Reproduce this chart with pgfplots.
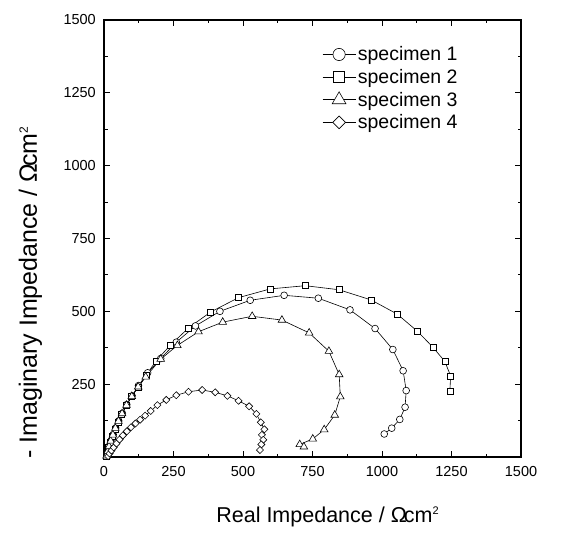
\documentclass[border=0pt]{standalone}
\usepackage{fontspec}
\setmainfont{Liberation Sans}
\usepackage{pgfplots}
\pgfplotsset{compat=1.18}
\begin{document}
\begin{tikzpicture}
\begin{axis}[
    width=417pt, height=437pt, scale only axis,
    xmin=0, xmax=1500, ymin=0, ymax=1500,
    xtick={0,250,...,1500}, ytick={0,250,...,1500},
    xticklabels={0,250,500,750,1000,1250,1500},
    yticklabels={,250,500,750,1000,1250,1500},
    minor tick num=1,
    tick align=inside,
    major tick length=6pt, minor tick length=3.5pt,
    axis line style={line width=1.2pt},
    every tick/.style={black, line width=0.9pt},
    tick label style={font=\fontsize{14.5}{14.5}\selectfont},
    xticklabel style={inner sep=0pt, yshift=-9pt},
    yticklabel style={inner sep=0pt, xshift=-8pt},
    xlabel={Real Impedance / Ω\kern-3pt cm\raisebox{8pt}{\fontsize{11}{11}\selectfont 2}},
    ylabel={- Imaginary Impedance / Ω\kern-3pt cm\raisebox{9pt}{\fontsize{12}{12}\selectfont 2}},
    xlabel style={font=\fontsize{21.5}{21.5}\selectfont, at={(axis description cs:0.536,-0.149)}, anchor=base},
    ylabel style={font=\fontsize{25}{25}\selectfont, at={(axis description cs:-0.161,0.376)}, anchor=base},
    legend style={draw=none, fill=none, at={(axis description cs:0.523,0.944)}, anchor=north west,
        font=\fontsize{19.5}{19.5}\selectfont, inner sep=0pt, row sep=3pt,
        /tikz/every even column/.append style={column sep=5pt}},
    legend cell align=left,
    legend image code/.code={\draw[mark repeat=2, mark phase=2, #1, every mark/.append style={scale=1.8}]
        plot coordinates {(0pt,0pt) (16.5pt,0pt) (33pt,0pt)};},
    every axis plot/.append style={black, line width=0.6pt},
]
% specimen 1
\addplot[mark=*, mark size=3.4pt, mark options={fill=white, solid}] coordinates {
(10,5) (14,20) (19,37) (25,56) (33,77) (42,100) (53,124) (66,150) (82,180) (101,210)
(124,245) (157,289) (204,338) (260,394) (329,450) (417,500) (526,538) (648,555)
(771,545) (885,505) (975,441) (1039,369) (1076,296) (1087,228) (1083,171)
(1064,129) (1035,99) (1008,79)};
% specimen 2
\addplot[mark=square*, mark size=3pt, mark options={fill=white, solid}] coordinates {
(8,3) (12,17) (17,33) (23,52) (30,72) (39,95) (50,119) (63,146) (79,176) (99,208)
(124,240) (151,279) (187,330) (240,385) (304,443) (384,498) (484,547) (598,577)
(724,588) (846,574) (961,539) (1054,491) (1127,432) (1183,377) (1226,328)
(1247,278) (1244,226)};
% specimen 3
\addplot[mark=triangle*, mark size=4.4pt, mark options={fill=white, solid}] coordinates {
(9,4) (13,19) (18,36) (24,55) (32,76) (41,99) (52,123) (65,149) (81,178) (100,208)
(123,241) (150,275) (204,336) (264,383) (340,430) (427,463) (533,483) (640,470)
(738,426) (809,363) (846,283) (850,207) (830,144) (792,94) (751,62) (704,43) (719,35)};
% specimen 4
\addplot[mark=square*, mark size=2.5pt, mark options={fill=white, solid, rotate=45}] coordinates {
(15,3) (20,12) (27,22) (35,33) (45,46) (56,60) (68,74) (82,88) (97,102) (113,115)
(130,128) (148,142) (168,158) (192,178) (224,196) (260,212) (304,224) (353,230)
(400,222) (444,210) (484,193) (522,174) (548,148) (564,119) (577,95) (568,76)
(573,59) (566,43) (561,24)};
\legend{specimen 1, specimen 2, specimen 3, specimen 4}
\coordinate (sw) at (rel axis cs:0,0);
\coordinate (ne) at (rel axis cs:1,1);
\end{axis}
\pgfresetboundingbox
\path[use as bounding box] ([shift={(-104pt,-84pt)}]sw) rectangle ([shift={(57pt,20pt)}]ne);
\end{tikzpicture}
\end{document}
